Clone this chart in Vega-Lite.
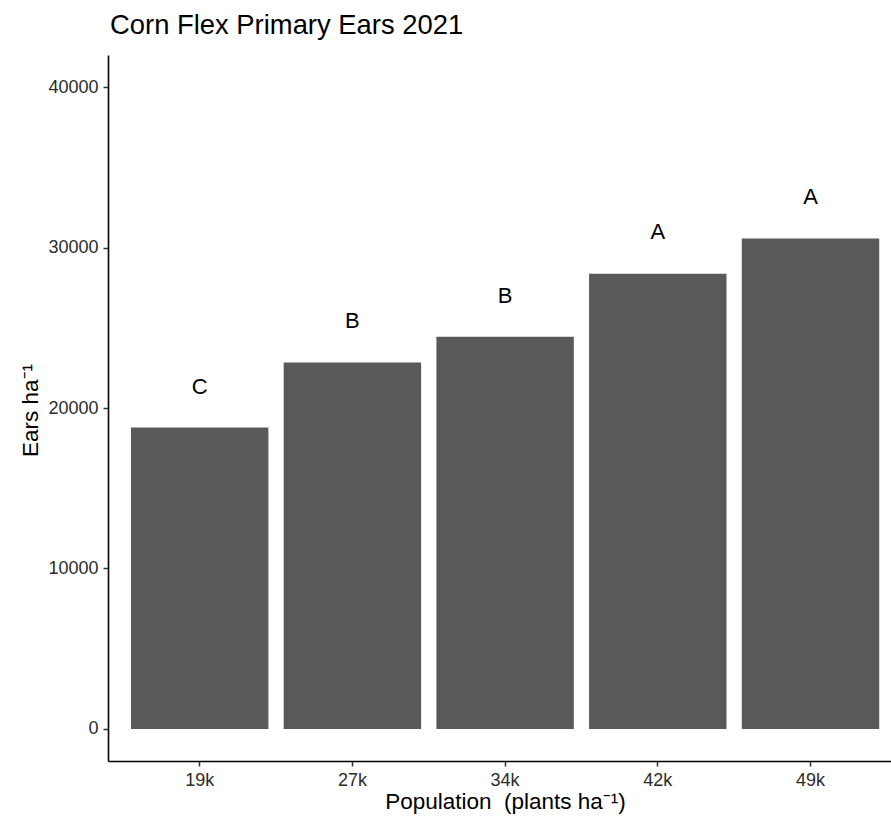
{
  "$schema": "https://vega.github.io/schema/vega-lite/v6.json",
  "autosize": {"type": "none"},
  "padding": {"left": 108, "top": 55, "right": 0, "bottom": 64},
  "width": 783,
  "height": 706,
  "background": "white",
  "title": {
    "text": "Corn Flex Primary Ears 2021",
    "anchor": "start",
    "frame": "group",
    "font": "Liberation Sans",
    "fontSize": 27.4,
    "fontWeight": "normal",
    "color": "#000000",
    "baseline": "alphabetic",
    "offset": 19,
    "dx": 2,
    "dy": 25
  },
  "data": {
    "values": [
      {"pop": "19k", "ears": 18785, "letter": "C", "lab_y": 21300},
      {"pop": "27k", "ears": 22837, "letter": "B", "lab_y": 25400},
      {"pop": "34k", "ears": 24439, "letter": "B", "lab_y": 27000},
      {"pop": "42k", "ears": 28367, "letter": "A", "lab_y": 30950},
      {"pop": "49k", "ears": 30568, "letter": "A", "lab_y": 33150}
    ]
  },
  "config": {
    "view": {"stroke": null},
    "axis": {
      "grid": false,
      "domainColor": "#000000",
      "domainWidth": 1.6,
      "tickColor": "#333333",
      "tickWidth": 1.5,
      "tickSize": 5,
      "labelFont": "Liberation Sans",
      "labelFontSize": 18,
      "labelColor": "#2b2b2b",
      "titleFont": "Liberation Sans",
      "titleFontSize": 22.5,
      "titleFontWeight": "normal",
      "titleColor": "#000000"
    }
  },
  "layer": [
    {
      "mark": {"type": "bar", "color": "#595959"},
      "encoding": {
        "x": {
          "field": "pop",
          "type": "nominal",
          "sort": ["19k", "27k", "34k", "42k", "49k"],
          "scale": {"paddingInner": 0.1, "paddingOuter": 0.1138, "align": 0.661},
          "axis": {
            "title": "Population\u00a0 (plants ha⁻¹)",
            "labelAngle": 0,
            "labelPadding": 5,
            "titleX": 397,
            "titleY": 47,
            "titleAlign": "center",
            "titleBaseline": "alphabetic"
          }
        },
        "y": {
          "field": "ears",
          "type": "quantitative",
          "scale": {"domain": [-2000, 42000], "nice": false, "zero": false},
          "axis": {
            "title": "Ears ha⁻¹",
            "values": [0, 10000, 20000, 30000, 40000],
            "format": "d",
            "labelPadding": 5,
            "titleAngle": -90,
            "titleX": -71,
            "titleY": 355,
            "titleAlign": "center",
            "titleBaseline": "alphabetic"
          }
        },
        "y2": {"datum": 0}
      }
    },
    {
      "mark": {"type": "text", "font": "Liberation Sans", "fontSize": 22, "baseline": "middle", "align": "center", "color": "#000000"},
      "encoding": {
        "x": {"field": "pop", "type": "nominal", "sort": ["19k", "27k", "34k", "42k", "49k"]},
        "y": {"field": "lab_y", "type": "quantitative"},
        "text": {"field": "letter"}
      }
    }
  ]
}
